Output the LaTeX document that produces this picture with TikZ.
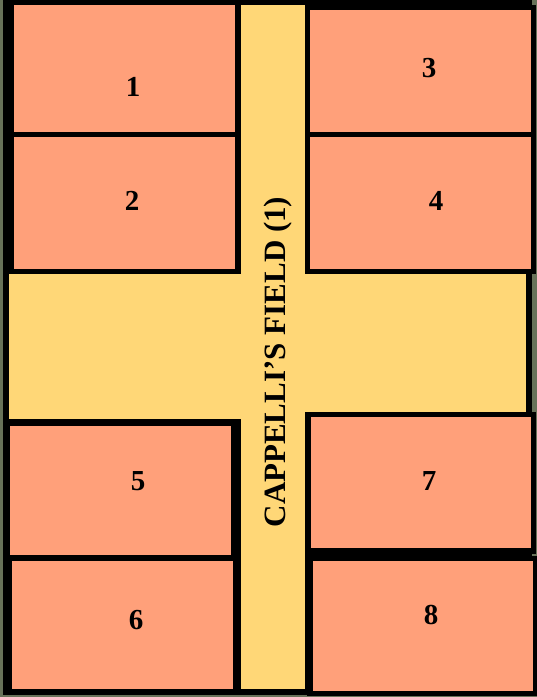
\documentclass[tikz,border=0pt]{standalone}
\usepackage{fontspec}
\setmainfont{Liberation Serif}
\usepackage{xcolor}
\usepackage{tikz}
\definecolor{plotorange}{HTML}{FFA07A}
\definecolor{fieldyellow}{HTML}{FFD777}
\definecolor{edgegreen}{HTML}{687259}

\begin{document}
\begin{tikzpicture}[x=1pt,y=-1pt,
  plot/.style={draw=black,line width=5.5pt,fill=plotorange},
  field/.style={draw=black,line width=5.5pt,fill=fieldyellow},
  num/.style={font=\fontsize{29}{32}\selectfont\bfseries,inner sep=0pt},
  fieldlabel/.style={font=\fontsize{31}{34}\selectfont\bfseries,inner sep=0pt,rotate=90}]
\useasboundingbox (0,0) rectangle (537,697);
\fill[edgegreen] (0,0) rectangle (537,697);
\fill[black] (3,0) rectangle (532,695);
\draw[field] (238,2) -- (307.5,2) -- (307.5,271.5) -- (528.5,271.5) -- (528.5,414.5) -- (307.5,414.5)
  -- (307.5,692) -- (238,692) -- (238,421.5) -- (6.5,421.5) -- (6.5,271.5) -- (238,271.5) -- cycle;
\draw[plot] (11.5,2) rectangle (238,134.5);
\draw[plot] (11.5,134.5) rectangle (238,271.5);
\draw[plot] (307.5,7.5) rectangle (533.5,134.5);
\draw[plot] (307.5,134.5) rectangle (533.5,271.5);
\draw[plot] (7.5,423.5) rectangle (234,557.5);
\draw[plot] (9.5,558.5) rectangle (236,692);
\draw[plot] (308,414.5) rectangle (533.5,551);
\draw[plot] (310,558.5) rectangle (535.5,693.5);
\node[num] (n1) at (133,87) {1};
\node[num] (n2) at (132,201) {2};
\node[num] (n3) at (429,68) {3};
\node[num] (n4) at (436,201) {4};
\node[num] (n5) at (138,481) {5};
\node[num] (n6) at (136,620) {6};
\node[num] (n7) at (429,481) {7};
\node[num] (n8) at (431,615) {8};
\node[fieldlabel] (fieldname) at (278,362) {CAPPELLI’S FIELD (1)};
\end{tikzpicture}
\end{document}
